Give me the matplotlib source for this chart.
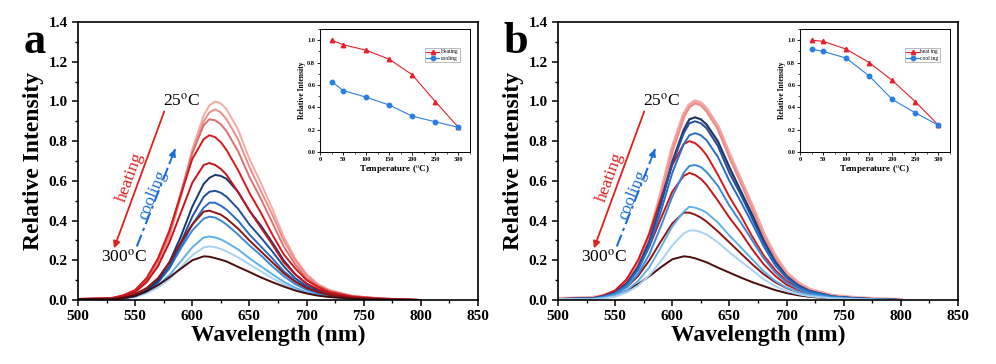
import numpy as np
import matplotlib
matplotlib.use("Agg")
import matplotlib.pyplot as plt
from matplotlib.ticker import MultipleLocator, FormatStrFormatter

plt.rcParams['font.family'] = ['Liberation Serif', 'DejaVu Serif']
plt.rcParams['mathtext.fontset'] = 'stix'

# wavelength grid (nm) shared by every spectrum
wavelength = [500, 530, 540, 550, 560, 570, 580, 590, 600, 610, 615, 620, 625, 630, 640,
              650, 660, 670, 680, 690, 700, 710, 720, 740, 760, 780, 800]

# ---- panel a: heating spectra (25 -> 300 C) ----
a_heat_25 = [0.005, 0.01, 0.02, 0.04, 0.09, 0.18, 0.32, 0.53, 0.76, 0.93, 0.98, 1.00, 0.99, 0.96, 0.86,
             0.71, 0.59, 0.46, 0.32, 0.21, 0.13, 0.08, 0.05, 0.02, 0.01, 0.004, 0.0]
a_heat_50 = [0.005, 0.01, 0.02, 0.04, 0.09, 0.18, 0.32, 0.52, 0.74, 0.90, 0.945, 0.96, 0.945, 0.91, 0.81,
             0.67, 0.55, 0.43, 0.30, 0.20, 0.125, 0.077, 0.048, 0.02, 0.01, 0.004, 0.0]
a_heat_100 = [0.005, 0.01, 0.02, 0.05, 0.10, 0.20, 0.34, 0.54, 0.74, 0.88, 0.91, 0.905, 0.885, 0.85, 0.75,
              0.62, 0.51, 0.39, 0.27, 0.18, 0.11, 0.07, 0.045, 0.02, 0.01, 0.004, 0.0]
a_heat_150 = [0.005, 0.01, 0.025, 0.05, 0.11, 0.21, 0.35, 0.53, 0.71, 0.81, 0.83, 0.82, 0.795, 0.755, 0.655,
              0.54, 0.44, 0.33, 0.23, 0.16, 0.10, 0.066, 0.04, 0.017, 0.008, 0.003, 0.0]
a_heat_200 = [0.005, 0.007, 0.02, 0.04, 0.09, 0.17, 0.29, 0.44, 0.59, 0.68, 0.69, 0.68, 0.66, 0.63, 0.545,
              0.45, 0.365, 0.28, 0.19, 0.13, 0.083, 0.055, 0.035, 0.014, 0.007, 0.003, 0.0]
a_heat_250 = [0.005, 0.005, 0.013, 0.03, 0.06, 0.11, 0.19, 0.29, 0.38, 0.445, 0.45, 0.44, 0.43, 0.41, 0.36,
              0.30, 0.245, 0.19, 0.135, 0.092, 0.06, 0.04, 0.026, 0.011, 0.005, 0.002, 0.0]
a_heat_300 = [0.005, 0.004, 0.011, 0.022, 0.044, 0.075, 0.114, 0.158, 0.20, 0.22, 0.218, 0.211, 0.203, 0.194, 0.167,
              0.141, 0.114, 0.09, 0.068, 0.048, 0.033, 0.022, 0.015, 0.007, 0.003, 0.001, 0.0]

# ---- panel a: cooling spectra (25 -> 250 C, recorded on the way down) ----
a_cool_25 = [0.005, 0.004, 0.01, 0.02, 0.05, 0.10, 0.19, 0.32, 0.47, 0.585, 0.615, 0.63, 0.625, 0.61, 0.545,
             0.45, 0.375, 0.29, 0.20, 0.13, 0.082, 0.05, 0.032, 0.013, 0.006, 0.002, 0.0]
a_cool_50 = [0.005, 0.004, 0.01, 0.02, 0.045, 0.09, 0.17, 0.29, 0.42, 0.52, 0.545, 0.55, 0.54, 0.52, 0.46,
             0.38, 0.315, 0.245, 0.17, 0.11, 0.07, 0.045, 0.028, 0.011, 0.005, 0.002, 0.0]
a_cool_100 = [0.005, 0.004, 0.01, 0.02, 0.045, 0.09, 0.16, 0.27, 0.38, 0.465, 0.49, 0.49, 0.475, 0.455, 0.40,
              0.33, 0.27, 0.21, 0.145, 0.097, 0.062, 0.04, 0.025, 0.01, 0.005, 0.002, 0.0]
a_cool_150 = [0.005, 0.004, 0.01, 0.02, 0.045, 0.09, 0.16, 0.26, 0.35, 0.41, 0.42, 0.415, 0.40, 0.38, 0.33,
              0.275, 0.225, 0.17, 0.12, 0.08, 0.052, 0.034, 0.021, 0.009, 0.004, 0.002, 0.0]
a_cool_200 = [0.005, 0.003, 0.008, 0.018, 0.04, 0.075, 0.125, 0.195, 0.265, 0.315, 0.32, 0.315, 0.305, 0.29, 0.255,
              0.21, 0.17, 0.13, 0.092, 0.062, 0.04, 0.027, 0.017, 0.007, 0.003, 0.001, 0.0]
a_cool_250 = [0.005, 0.003, 0.007, 0.016, 0.034, 0.063, 0.105, 0.165, 0.225, 0.265, 0.27, 0.266, 0.257, 0.245, 0.215,
              0.18, 0.145, 0.11, 0.079, 0.054, 0.036, 0.024, 0.015, 0.006, 0.003, 0.001, 0.0]

# ---- panel b: heating spectra ----
b_heat_25 = [0.005, 0.01, 0.02, 0.04, 0.09, 0.18, 0.32, 0.53, 0.76, 0.93, 0.98, 1.00, 0.99, 0.96, 0.87,
             0.73, 0.60, 0.47, 0.33, 0.22, 0.135, 0.085, 0.052, 0.021, 0.01, 0.004, 0.0]
b_heat_50 = [0.005, 0.01, 0.02, 0.04, 0.09, 0.18, 0.32, 0.52, 0.75, 0.92, 0.97, 0.99, 0.98, 0.95, 0.86,
             0.72, 0.59, 0.46, 0.32, 0.21, 0.13, 0.08, 0.05, 0.02, 0.01, 0.004, 0.0]
b_heat_100 = [0.005, 0.01, 0.02, 0.04, 0.085, 0.17, 0.30, 0.49, 0.70, 0.86, 0.91, 0.92, 0.91, 0.88, 0.79,
              0.66, 0.54, 0.42, 0.29, 0.19, 0.12, 0.075, 0.046, 0.018, 0.009, 0.004, 0.0]
b_heat_150 = [0.005, 0.008, 0.024, 0.048, 0.104, 0.20, 0.336, 0.51, 0.68, 0.785, 0.80, 0.79, 0.765, 0.73, 0.63,
              0.52, 0.425, 0.32, 0.225, 0.152, 0.096, 0.064, 0.04, 0.016, 0.008, 0.003, 0.0]
b_heat_200 = [0.005, 0.007, 0.02, 0.04, 0.085, 0.16, 0.27, 0.41, 0.545, 0.625, 0.64, 0.63, 0.61, 0.58, 0.50,
              0.415, 0.34, 0.255, 0.18, 0.122, 0.077, 0.051, 0.032, 0.013, 0.006, 0.003, 0.0]
b_heat_250 = [0.005, 0.006, 0.015, 0.032, 0.065, 0.12, 0.20, 0.295, 0.385, 0.44, 0.44, 0.43, 0.415, 0.395, 0.345,
              0.29, 0.235, 0.18, 0.13, 0.09, 0.06, 0.04, 0.026, 0.011, 0.005, 0.002, 0.0]
b_heat_300 = [0.005, 0.005, 0.012, 0.024, 0.047, 0.08, 0.12, 0.165, 0.205, 0.22, 0.217, 0.21, 0.20, 0.19, 0.163,
              0.138, 0.113, 0.09, 0.07, 0.05, 0.035, 0.024, 0.016, 0.007, 0.003, 0.001, 0.0]

# ---- panel b: cooling spectra ----
b_cool_25 = [0.005, 0.008, 0.018, 0.036, 0.08, 0.165, 0.295, 0.485, 0.695, 0.855, 0.91, 0.92, 0.91, 0.885, 0.80,
             0.67, 0.55, 0.43, 0.30, 0.195, 0.12, 0.075, 0.046, 0.018, 0.009, 0.004, 0.0]
b_cool_50 = [0.005, 0.008, 0.018, 0.035, 0.08, 0.16, 0.29, 0.48, 0.685, 0.84, 0.89, 0.90, 0.89, 0.865, 0.775,
             0.64, 0.53, 0.41, 0.29, 0.19, 0.117, 0.072, 0.045, 0.018, 0.009, 0.004, 0.0]
b_cool_100 = [0.005, 0.008, 0.017, 0.034, 0.075, 0.15, 0.27, 0.445, 0.64, 0.785, 0.83, 0.84, 0.83, 0.805, 0.72,
              0.60, 0.495, 0.385, 0.27, 0.175, 0.11, 0.067, 0.042, 0.017, 0.008, 0.003, 0.0]
b_cool_150 = [0.005, 0.006, 0.014, 0.03, 0.065, 0.13, 0.23, 0.37, 0.52, 0.64, 0.675, 0.68, 0.67, 0.645, 0.575,
              0.475, 0.39, 0.30, 0.21, 0.14, 0.088, 0.055, 0.034, 0.014, 0.007, 0.003, 0.0]
b_cool_200 = [0.005, 0.004, 0.01, 0.022, 0.048, 0.095, 0.165, 0.265, 0.37, 0.445, 0.47, 0.465, 0.455, 0.44, 0.39,
              0.325, 0.265, 0.205, 0.145, 0.097, 0.062, 0.04, 0.025, 0.01, 0.005, 0.002, 0.0]
b_cool_250 = [0.005, 0.003, 0.008, 0.017, 0.037, 0.072, 0.125, 0.195, 0.275, 0.335, 0.35, 0.35, 0.342, 0.33, 0.29,
              0.24, 0.195, 0.15, 0.105, 0.07, 0.045, 0.03, 0.019, 0.008, 0.004, 0.001, 0.0]

# ---- insets: peak intensity vs temperature ----
temperature = [25, 50, 100, 150, 200, 250, 300]
a_peak_heating = [1.00, 0.96, 0.91, 0.83, 0.69, 0.45, 0.22]
a_peak_cooling = [0.63, 0.55, 0.49, 0.42, 0.32, 0.27, 0.22]
b_peak_heating = [1.00, 0.99, 0.92, 0.80, 0.64, 0.45, 0.24]
b_peak_cooling = [0.92, 0.90, 0.84, 0.68, 0.47, 0.35, 0.24]

heat_colors = ['#f6aaa3', '#ee8c88', '#d97070', '#d7191c', '#c4151b', '#8e1414', '#4a0c0c']
cool_colors = ['#15386f', '#1f4f9c', '#2b6cc4', '#3a8ad8', '#5fb0ea', '#a9d2f1']

WHITE_BG = 'white'


def style_main(ax):
    ax.set_xlim(500, 850)
    ax.set_ylim(0, 1.4)
    ax.xaxis.set_major_locator(MultipleLocator(50))
    ax.xaxis.set_minor_locator(MultipleLocator(25))
    ax.yaxis.set_major_locator(MultipleLocator(0.2))
    ax.yaxis.set_minor_locator(MultipleLocator(0.1))
    ax.yaxis.set_major_formatter(FormatStrFormatter('%.1f'))
    ax.tick_params(which='major', direction='out', length=4, width=1.1, labelsize=11)
    ax.tick_params(which='minor', direction='out', length=2.5, width=1.0)
    for lbl in ax.get_xticklabels() + ax.get_yticklabels():
        lbl.set_fontweight('bold')
    for s in ax.spines.values():
        s.set_linewidth(1.2)
    ax.set_xlabel('Wavelength (nm)', fontsize=17, fontweight='bold', labelpad=1)
    ax.set_ylabel('Relative Intensity', fontsize=17, fontweight='bold', labelpad=3)


def annotate_main(ax, pos25, pos300, heat_arrow, cool_arrow, heat_txt, cool_txt):
    ax.text(*pos25, '25$^{\\rm o}$C', fontsize=12.5, ha='left', va='center')
    ax.text(*pos300, '300$^{\\rm o}$C', fontsize=12.5, ha='left', va='center')
    # heating arrow (solid red)
    ax.annotate('', xy=heat_arrow[1], xytext=heat_arrow[0],
                arrowprops=dict(arrowstyle='-|>', color='#e0201c', lw=1.3,
                                mutation_scale=10, shrinkA=0, shrinkB=0))
    ax.text(*heat_txt, 'heating', color='#e0201c', fontsize=12.5, rotation=70,
            ha='center', va='center')
    # cooling arrow (dash-dot blue)
    (x0, y0), (x1, y1) = cool_arrow
    ax.plot([x0, x1], [y0, y1], color='#1e6fd2', lw=1.5, linestyle=(0, (6, 2, 1.5, 2)))
    ax.annotate('', xy=(x1, y1), xytext=(x1 - 0.12 * (x1 - x0), y1 - 0.12 * (y1 - y0)),
                arrowprops=dict(arrowstyle='-|>', color='#1e6fd2', lw=1.3,
                                mutation_scale=10, shrinkA=0, shrinkB=0))
    ax.text(*cool_txt, 'cooling', color='#1e6fd2', fontsize=12.5, rotation=68,
            ha='center', va='center')


def style_inset(ax, peak_heat, peak_cool, labels):
    ax.plot(temperature, peak_heat, color='#e8202a', lw=0.8, marker='^', ms=3.2,
            label=labels[0])
    ax.plot(temperature, peak_cool, color='#2a7ee0', lw=0.8, marker='o', ms=3.2,
            label=labels[1])
    ax.set_xlim(0, 325)
    ax.set_ylim(0, 1.1)
    ax.xaxis.set_major_locator(MultipleLocator(50))
    ax.xaxis.set_minor_locator(MultipleLocator(25))
    ax.yaxis.set_major_locator(MultipleLocator(0.2))
    ax.yaxis.set_minor_locator(MultipleLocator(0.1))
    ax.yaxis.set_major_formatter(FormatStrFormatter('%.1f'))
    ax.tick_params(which='major', direction='out', length=2, width=0.6, labelsize=4.5, pad=1.5)
    ax.tick_params(which='minor', direction='out', length=1.2, width=0.5)
    for lbl in ax.get_xticklabels() + ax.get_yticklabels():
        lbl.set_fontweight('bold')
    for s in ax.spines.values():
        s.set_linewidth(0.7)
    ax.set_xlabel('Temperature ($^{\\rm o}$C)', fontsize=6.5, fontweight='bold', labelpad=1)
    ax.set_ylabel('Relative Intensity', fontsize=5.5, fontweight='bold', labelpad=1)
    leg = ax.legend(loc='upper left', bbox_to_anchor=(0.68, 0.87), fontsize=4,
                    frameon=True, fancybox=False, edgecolor='#888888',
                    handlelength=2.2, borderpad=0.3, labelspacing=0.2, handletextpad=0.3)
    leg.get_frame().set_linewidth(0.5)


fig = plt.figure(figsize=(9.96, 3.64), dpi=100, facecolor=WHITE_BG)

# ----- panel a -----
ax_a = fig.add_axes([0.0783, 0.1758, 0.4016, 0.7637])
a_heat = [a_heat_25, a_heat_50, a_heat_100, a_heat_150, a_heat_200, a_heat_250, a_heat_300]
a_cool = [a_cool_25, a_cool_50, a_cool_100, a_cool_150, a_cool_200, a_cool_250]
for ys, c in zip(a_cool[::-1], cool_colors[::-1]):
    ax_a.plot(wavelength, ys, color=c, lw=1.4)
for ys, c in zip(a_heat, heat_colors):
    ax_a.plot(wavelength, ys, color=c, lw=1.4)
style_main(ax_a)
annotate_main(ax_a, (574, 1.0), (520, 0.215),
              ((575.5, 0.95), (531.5, 0.26)), ((551.5, 0.27), (585, 0.76)),
              (545.5, 0.62), (565, 0.53))
fig.text(0.024, 0.885, 'a', fontsize=32, fontweight='bold', ha='left', va='center')

ins_a = fig.add_axes([0.3213, 0.5824, 0.1506, 0.3379])
style_inset(ins_a, a_peak_heating, a_peak_cooling, ['Heating', 'cooling'])

# ----- panel b -----
ax_b = fig.add_axes([0.5602, 0.1758, 0.4016, 0.7637])
b_heat = [b_heat_25, b_heat_50, b_heat_100, b_heat_150, b_heat_200, b_heat_250, b_heat_300]
b_cool = [b_cool_25, b_cool_50, b_cool_100, b_cool_150, b_cool_200, b_cool_250]
ax_b.plot(wavelength, b_heat_25, color='#f08a86', lw=3.0, alpha=0.75)
for ys, c in zip(b_heat[1:], heat_colors[1:]):
    ax_b.plot(wavelength, ys, color=c, lw=1.4)
for ys, c in zip(b_cool, cool_colors):
    ax_b.plot(wavelength, ys, color=c, lw=1.4)
style_main(ax_b)
annotate_main(ax_b, (574, 1.0), (520, 0.215),
              ((575.5, 0.95), (531.5, 0.26)), ((551.5, 0.27), (585, 0.76)),
              (545.5, 0.62), (565, 0.53))
fig.text(0.505, 0.885, 'b', fontsize=32, fontweight='bold', ha='left', va='center')

ins_b = fig.add_axes([0.8032, 0.5824, 0.1506, 0.3379])
style_inset(ins_b, b_peak_heating, b_peak_cooling, ['heat ing', 'cool ing'])

plt.savefig('out.png', dpi=100, facecolor=WHITE_BG)
